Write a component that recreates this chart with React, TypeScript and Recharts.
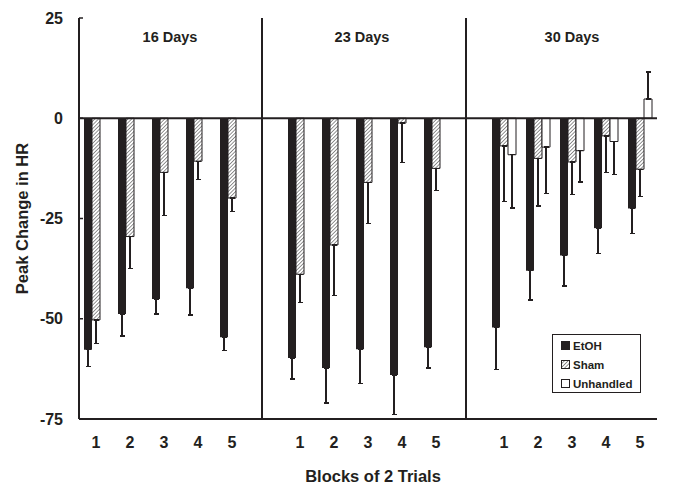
import React from "react";
import { BarChart, Bar, XAxis, YAxis, ErrorBar, ReferenceLine, Legend } from "recharts";

// panels (days after treatment) and trial blocks
const days = ["16 Days", "23 Days", "30 Days"];
const blocks = ["1", "2", "3", "4", "5"];

// peak change in HR, one row per panel
const etohMean = [
  [-57.7, -48.8, -45.1, -42.4, -54.6],
  [-59.8, -62.3, -57.6, -64.0, -57.1],
  [-52.2, -38.0, -34.2, -27.4, -22.5],
];
const etohSem = [
  [4.2, 5.5, 3.7, 6.7, 3.4],
  [5.2, 8.7, 8.5, 9.8, 5.2],
  [10.4, 7.3, 7.6, 6.4, 6.3],
];
const shamMean = [
  [-50.3, -29.5, -13.5, -10.7, -19.9],
  [-38.9, -31.6, -16.0, -1.2, -12.5],
  [-6.9, -10.0, -10.9, -4.4, -12.7],
];
const shamSem = [
  [5.8, 7.9, 10.7, 4.5, 3.4],
  [7.0, 12.6, 10.3, 9.8, 5.6],
  [13.9, 11.9, 8.2, 9.1, 6.8],
];
const unhandledMean: (number | null)[][] = [
  [null, null, null, null, null],
  [null, null, null, null, null],
  [-9.1, -7.2, -8.1, -5.8, 4.8],
];
const unhandledSem: (number | null)[][] = [
  [null, null, null, null, null],
  [null, null, null, null, null],
  [13.3, 11.5, 7.8, 8.3, 6.7],
];

const yTicks = [25, 0, -25, -50, -75];

const INK = "#231f20";
const FONT = '"Liberation Sans", Arial, sans-serif';

// error bars only point away from zero
const oneSided = (v: number | null, e: number | null) =>
  v == null || e == null ? undefined : v < 0 ? [e, 0] : [0, e];

const rows: any[] = [];
days.forEach((d, p) => {
  blocks.forEach((b, i) => {
    rows.push({
      key: `${p}-${b}`,
      etoh: etohMean[p][i],
      etohErr: oneSided(etohMean[p][i], etohSem[p][i]),
      sham: shamMean[p][i],
      shamErr: oneSided(shamMean[p][i], shamSem[p][i]),
      unhandled: unhandledMean[p][i],
      unhandledErr: oneSided(unhandledMean[p][i], unhandledSem[p][i]),
    });
  });
  if (p < days.length - 1) rows.push({ key: `gap-${p}` });
});

const series = [
  { key: "etoh", name: "EtOH", fill: INK },
  { key: "sham", name: "Sham", fill: "url(#hatch)" },
  { key: "unhandled", name: "Unhandled", fill: "#fff" },
];

// title nudges so they sit between the divider lines
const titleShift = [6, -6, 0];

const YTick = ({ x, y, payload }: any) => (
  <g>
    <text x={x} y={y} dy="0.355em" textAnchor="end" fontFamily={FONT} fontWeight={700} fontSize={16} fill={INK}>
      {payload.value}
    </text>
    <line x1={x + 16} x2={x + 20} y1={y} y2={y} stroke={INK} strokeWidth={1.5} />
  </g>
);

const divider = (p: any) => (
  <line x1={p.x1 - 4} x2={p.x2 - 4} y1={p.y1 - 1} y2={p.y2} stroke={INK} strokeWidth={2} />
);

function LegendBox() {
  return (
    <div
      style={{
        boxSizing: "border-box",
        width: 89,
        height: 59,
        border: `1.5px solid ${INK}`,
        background: "#fff",
        paddingTop: 1,
        paddingLeft: 8,
        fontFamily: FONT,
        fontWeight: 700,
        fontSize: 11.5,
        color: INK,
      }}
    >
      {series.map((s) => (
        <div key={s.key} style={{ height: 19, display: "flex", alignItems: "center" }}>
          <svg width={10} height={9} style={{ marginRight: 2 }}>
            <rect x={0.5} y={0.5} width={8} height={8} fill={s.fill} stroke={INK} strokeWidth={1} />
          </svg>
          {s.name}
        </div>
      ))}
    </div>
  );
}

export default function App() {
  return (
    <div style={{ position: "absolute", left: 0, top: 0, width: 673, height: 486, background: "#fff" }}>
      <BarChart
        width={673}
        height={486}
        data={rows}
        margin={{ top: 18, right: 16, bottom: 0, left: 0 }}
        barCategoryGap={5}
        barGap={0}
      >
        <defs>
          <pattern id="hatch" width="2.6" height="2.6" patternUnits="userSpaceOnUse" patternTransform="rotate(45)">
            <rect width="2.6" height="2.6" fill="#fff" />
            <line x1="0" y1="0" x2="0" y2="2.6" stroke="#4a4a4a" strokeWidth="1.2" />
          </pattern>
        </defs>
        <XAxis
          dataKey="key"
          interval={0}
          height={67}
          tickLine={false}
          tickSize={0}
          tickMargin={18}
          axisLine={{ stroke: INK, strokeWidth: 2 }}
          tick={{ fontSize: 16, fontWeight: 700, fill: INK, fontFamily: FONT }}
          tickFormatter={(v: string) => (v.startsWith("gap") ? "" : v.split("-")[1])}
          label={{
            content: ({ viewBox }: any) => (
              <text
                x={viewBox.x + viewBox.width / 2 + 5}
                y={viewBox.y + 63}
                textAnchor="middle"
                fontFamily={FONT}
                fontWeight={700}
                fontSize={16.5}
                fill={INK}
              >
                Blocks of 2 Trials
              </text>
            ),
          }}
        />
        <YAxis
          type="number"
          width={79}
          domain={[-75, 25]}
          ticks={yTicks}
          interval={0}
          tickLine={false}
          tickSize={0}
          tickMargin={16}
          axisLine={{ stroke: INK, strokeWidth: 2 }}
          tick={<YTick />}
          label={{
            content: ({ viewBox }: any) => {
              const cx = viewBox.x + 28;
              const cy = viewBox.y + viewBox.height / 2;
              return (
                <text
                  x={cx}
                  y={cy}
                  transform={`rotate(-90, ${cx}, ${cy})`}
                  textAnchor="middle"
                  fontFamily={FONT}
                  fontWeight={700}
                  fontSize={16.5}
                  fill={INK}
                >
                  Peak Change in HR
                </text>
              );
            },
          }}
        />
        <Legend
          layout="vertical"
          align="center"
          verticalAlign="middle"
          content={() => <LegendBox />}
          wrapperStyle={{ left: 552, top: 334, width: 89, height: 59 }}
        />
        {series.map((s) => (
          <Bar
            key={s.key}
            dataKey={s.key}
            name={s.name}
            fill={s.fill}
            stroke={s.key === "etoh" ? "none" : INK}
            strokeWidth={1}
            isAnimationActive={false}
          >
            <ErrorBar
              dataKey={`${s.key}Err`}
              direction="y"
              width={2.5}
              stroke={INK}
              strokeWidth={1.3}
              shapeRendering="crispEdges"
            />
          </Bar>
        ))}
        <ReferenceLine y={0} stroke={INK} strokeWidth={2} />
        {days.slice(0, -1).map((d, p) => (
          <ReferenceLine key={d} x={`gap-${p}`} shape={divider} />
        ))}
        {days.map((d, p) => (
          <ReferenceLine
            key={`title-${d}`}
            x={`${p}-3`}
            stroke="none"
            label={{
              content: ({ viewBox }: any) => (
                <text
                  x={viewBox.x + titleShift[p]}
                  y={viewBox.y + 24}
                  textAnchor="middle"
                  fontFamily={FONT}
                  fontWeight={700}
                  fontSize={14.5}
                  fill={INK}
                >
                  {d}
                </text>
              ),
            }}
          />
        ))}
      </BarChart>
    </div>
  );
}
